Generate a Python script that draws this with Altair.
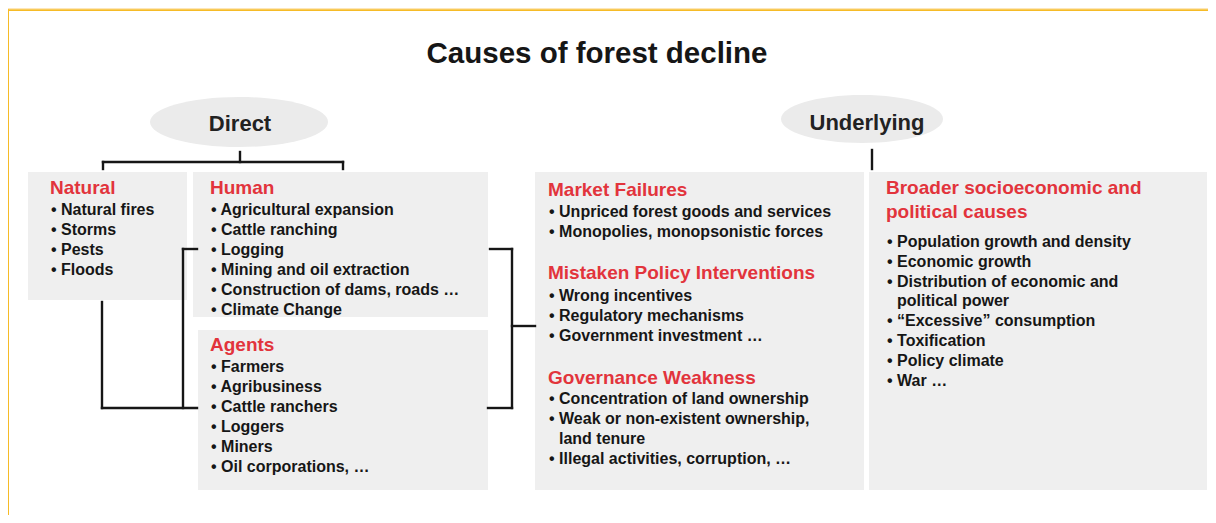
import altair as alt
import pandas as pd

# ---------------- content ----------------
TITLE = "Causes of forest decline"
LABELS = ["Direct", "Underlying"]

natural_head = ["Natural"]
natural_items = ["Natural fires", "Storms", "Pests", "Floods"]
human_head = ["Human"]
human_items = ["Agricultural expansion", "Cattle ranching", "Logging",
               "Mining and oil extraction", "Construction of dams, roads …",
               "Climate Change"]
agents_head = ["Agents"]
agents_items = ["Farmers", "Agribusiness", "Cattle ranchers", "Loggers",
                "Miners", "Oil corporations, …"]
market_head = ["Market Failures"]
market_items = ["Unpriced forest goods and services",
                "Monopolies, monopsonistic forces"]
policy_head = ["Mistaken Policy Interventions"]
policy_items = ["Wrong incentives", "Regulatory mechanisms",
                "Government investment …"]
gov_head = ["Governance Weakness"]
gov_items = ["Concentration of land ownership",
             ["Weak or non-existent ownership,", "land tenure"],
             "Illegal activities, corruption, …"]
broad_head = ["Broader socioeconomic and", "political causes"]
broad_items = ["Population growth and density", "Economic growth",
               ["Distribution of economic and", "political power"],
               "“Excessive” consumption", "Toxification", "Policy climate",
               "War …"]

# ---------------- layout (pixel space of the 1216x523 picture) ----------------
RED = "#e2343c"
INK = "#161616"
BOX = "#efefef"
FONT = "Liberation Sans"

groups = [
    # head, items, x, head_y, head_step, item_y0, item_step
    (natural_head, natural_items, 50, 188, 24, 210, 20),
    (human_head, human_items, 210, 188, 24, 210, 20),
    (agents_head, agents_items, 210, 345, 24, 367, 20),
    (market_head, market_items, 548, 190, 24, 212, 20),
    (policy_head, policy_items, 548, 273, 24, 296, 20),
    (gov_head, gov_items, 548, 378, 24, 399, 20),
    (broad_head, broad_items, 886, 188, 24, 242, 19.8),
]

head_rows, item_rows = [], []
for head, items, gx, hy, hstep, iy0, istep in groups:
    for i, h in enumerate(head):
        head_rows.append({"x": gx, "y": hy + i * hstep, "t": h})
    k = 0
    for it in items:
        lines = it if isinstance(it, list) else [it]
        for j, ln in enumerate(lines):
            txt = ("• " + ln) if j == 0 else ln
            xx = gx + 1 if j == 0 else gx + 11
            item_rows.append({"x": xx, "y": iy0 + k * istep, "t": txt})
            k += 1

heads_df = pd.DataFrame(head_rows)
items_df = pd.DataFrame(item_rows)

boxes_df = pd.DataFrame([
    {"x": 28, "x2": 187, "y": 172, "y2": 300},
    {"x": 193, "x2": 488, "y": 172, "y2": 317},
    {"x": 198, "x2": 488, "y": 330, "y2": 490},
    {"x": 535, "x2": 864, "y": 172, "y2": 490},
    {"x": 869, "x2": 1207, "y": 172, "y2": 490},
])

lines_df = pd.DataFrame([
    {"x": 103, "x2": 343, "y": 162, "y2": 162},
    {"x": 103, "x2": 103, "y": 162, "y2": 169},
    {"x": 343, "x2": 343, "y": 162, "y2": 169},
    {"x": 240, "x2": 240, "y": 152, "y2": 162},
    {"x": 872, "x2": 872, "y": 150, "y2": 169},
    {"x": 102, "x2": 102, "y": 302, "y2": 408},
    {"x": 183, "x2": 183, "y": 249, "y2": 408},
    {"x": 183, "x2": 197, "y": 249, "y2": 249},
    {"x": 102, "x2": 197, "y": 408, "y2": 408},
    {"x": 512, "x2": 512, "y": 249, "y2": 408},
    {"x": 490, "x2": 512, "y": 249, "y2": 249},
    {"x": 488, "x2": 512, "y": 408, "y2": 408},
    {"x": 512, "x2": 535, "y": 326, "y2": 326},
])

X = alt.X("x:Q", scale=alt.Scale(domain=[8, 1208], nice=False, zero=False), axis=None)
Y = alt.Y("y:Q", scale=alt.Scale(domain=[8, 515], nice=False, zero=False, reverse=True), axis=None)

layers = []

# frame decoration
frame_df = pd.DataFrame([{"x": 8, "x2": 1208, "y": 8, "y2": 9.3}])
layers.append(alt.Chart(frame_df).mark_rect(color="#fde6b8").encode(x=X, x2="x2:Q", y=Y, y2="y2:Q"))
orange_df = pd.DataFrame([
    {"x": 8, "x2": 1208, "y": 9.3, "y2": 11},
    {"x": 8, "x2": 9, "y": 9.3, "y2": 515},
])
layers.append(alt.Chart(orange_df).mark_rect(color="#f6bb27").encode(x=X, x2="x2:Q", y=Y, y2="y2:Q"))

# boxes
layers.append(alt.Chart(boxes_df).mark_rect(color=BOX).encode(x=X, x2="x2:Q", y=Y, y2="y2:Q"))

# ellipses
ell = [
    {"x": 239, "y": 122, "w": 178, "h": 50},
    {"x": 862, "y": 119, "w": 162, "h": 48},
]
for e in ell:
    ry = e["h"] / e["w"]
    path = f"M -1 0 A 1 {ry:.3f} 0 1 1 1 0 A 1 {ry:.3f} 0 1 1 -1 0 Z"
    layers.append(
        alt.Chart(pd.DataFrame([e])).mark_point(
            shape=path, filled=True, color="#ebebeb", opacity=1, size=e["w"] ** 2, strokeWidth=0
        ).encode(x=X, y=Y)
    )

# connector lines
layers.append(alt.Chart(lines_df).mark_rule(color=INK, strokeWidth=2.4, strokeCap="square").encode(
    x=X, x2="x2:Q", y=Y, y2="y2:Q"))

# title and labels
title_df = pd.DataFrame([{"x": 597, "y": 54, "t": TITLE}])
layers.append(alt.Chart(title_df).mark_text(
    align="center", baseline="middle", font=FONT, fontWeight="bold", fontSize=29.5, color=INK
).encode(x=X, y=Y, text="t:N"))

labels_df = pd.DataFrame([
    {"x": 240, "y": 124, "t": LABELS[0]},
    {"x": 867, "y": 123, "t": LABELS[1]},
])
layers.append(alt.Chart(labels_df).mark_text(
    align="center", baseline="middle", font=FONT, fontWeight="bold", fontSize=22, color="#222222"
).encode(x=X, y=Y, text="t:N"))

layers.append(alt.Chart(heads_df).mark_text(
    align="left", baseline="middle", font=FONT, fontWeight="bold", fontSize=19, color=RED
).encode(x=X, y=Y, text="t:N"))

layers.append(alt.Chart(items_df).mark_text(
    align="left", baseline="middle", font=FONT, fontWeight="bold", fontSize=16, color=INK
).encode(x=X, y=Y, text="t:N"))

chart = alt.layer(*layers).properties(
    width=1200, height=507, padding=0, autosize=alt.AutoSizeParams(type="none"),
    background="white"
).configure_view(stroke=None)

chart.save("out.html", embed_options={"renderer": "svg", "actions": False})
